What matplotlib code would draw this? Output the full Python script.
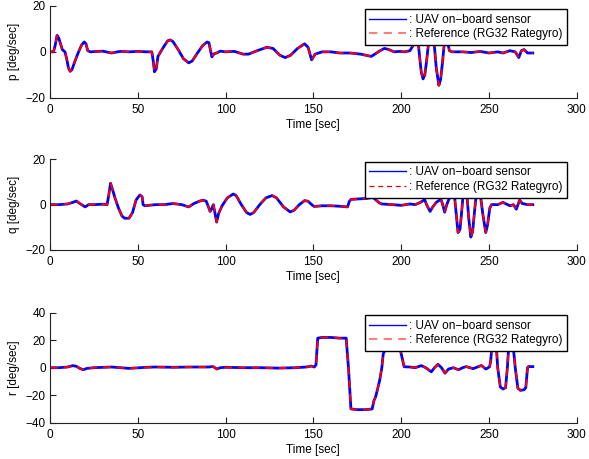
import matplotlib
matplotlib.use("Agg")
import matplotlib.pyplot as plt

plt.rcParams['font.family'] = ['Liberation Sans', 'DejaVu Sans']
plt.rcParams['font.size'] = 8.5

# ---- data ----
p_t = [0, 2, 3, 4, 5, 6, 7, 8.5, 9.5, 10.5, 11.5, 12.5, 14, 16, 18, 19.5, 20.5, 21.5, 23, 30, 35, 40, 45, 50, 55,
       58, 58.8, 59.5, 60.5, 61.5, 63, 65, 67, 68.5, 70, 73, 76, 79, 81, 84, 87, 89.5, 90.5, 92.2, 93.5, 95, 97,
       100, 105, 110, 113, 118, 123.5, 127, 131, 134, 137, 141, 145, 147, 149, 151, 155, 160, 165, 171, 177, 183,
       185, 188, 190.5, 193, 196, 199, 202, 205, 207, 208.5, 209.5, 210.5, 211.5, 212.5, 213.5, 214.5, 215.5,
       217, 218, 219, 220, 221.5, 222.5, 223.5, 224.5, 225.5, 226.5, 227.5, 229, 235, 240, 245, 250, 255, 258,
       262, 265, 267, 268.5, 270, 272, 275]
p_v = [0, 0, 3, 7.2, 6, 3.5, 1, 0, -3, -7, -8.5, -7.8, -4.5, -0.5, 3, 4.3, 3.5, 0.5, 0, 0.3, -0.5, 0.2, 0, 0.2, 0,
       0, -4, -8.7, -7.5, -2, 0, 2.5, 4.8, 5.2, 4.5, 1, -3, -4.8, -4, -0.5, 2.8, 4.3, 4, -2.2, -0.8, -0.5, 0.3,
       0, 0.2, -1, -1, 0.5, 2, 1.5, -1.5, -2.5, -1.5, 1.5, 3.5, 2, -3.5, -1, 0, 0, -0.5, -0.5, -1, -2,
       -1, 0.5, 1.5, 1, 0, 0.2, 0, 0.5, 3, 9, 6, -2, -9, -11.8, -10, -4, 3,
       9, 8, 2, -7, -14.6, -12, -5, 3, 7, 4, 0.5, 0, 0, -0.3, 0.2, -0.5, 0, -0.5,
       0.5, 0, -2.5, 0.5, 1, -0.5, -0.5]

q_t = [0, 5, 10, 13, 15, 17, 20, 22, 25, 30, 32.5, 33.2, 34.5, 35.5, 37, 39, 41, 42.5, 45, 47, 49, 51.2, 52.5,
       53, 54, 60, 65, 70, 75, 79, 82, 85, 87.3, 89, 90.5, 91.2, 92, 93, 93.8, 94.9, 96, 98, 101, 104.4, 106,
       109, 112, 114, 116, 120, 123, 126.5, 129, 133, 136.8, 139, 142, 145, 147, 149.5, 150.5, 155, 160, 165,
       169.5, 170.5, 171.5, 175, 180, 183.8, 185, 187.5, 189, 195, 200, 205, 208, 211, 213.4, 214.5, 216.5,
       218, 220, 222.6, 223.5, 224.8, 226, 228, 229.5, 230.5, 232.4, 233.5, 234.5, 235.5, 236.5, 237.5, 238.5,
       239.7, 240.7, 241.8, 243, 244, 245, 246.5, 248.2, 249.2, 250.5, 251.5, 255, 258, 262, 264, 265.6,
       267.5, 269, 272, 275]
q_v = [0, 0, 0.3, 1, 1.6, 0.5, -1, 0, 0, 0.2, 0, 3, 9.4, 7, 3, -1.5, -5, -6, -6, -3.5, 2, 4.3, 3.5,
       0, -0.5, 0, 0, 0.5, 0, -1, 0.5, 1.5, 2, 1.5, -1.5, -3, -2, 0, -3, -7.7, -4, -0.5, 3, 4.7, 4,
       0, -3.5, -4.3, -3.5, 0.5, 3, 4, 3, -1, -3.2, -2.5, 0, 1.8, 1.5, -0.3, -0.8, -0.5, -0.5, -0.7,
       -1, 1.5, 2.3, 2.5, 2.7, 3.2, 2.5, 0.8, 0.3, 0, -0.3, 0.3, 0, 1, 2.2, 0, -3,
       -1, 1, 2.4, 0.5, -3.3, 0, 4, 8, 3, -12.3, -11, -3, 6, 9, 4, -6,
       -14.3, -12, -3, 6, 9, 5, -4, -12.3, -9, -1.5, 0, 0, 1, -0.5, 0, -2,
       2, 0.5, 0, 0]

r_t = [0, 5, 10, 13, 15, 17, 19, 21, 25, 35, 45, 55, 60, 70, 80, 90, 93, 95, 97, 100, 110, 120, 130, 140,
       146, 148.8, 150.5, 151.5, 152.5, 155, 160, 165, 168.7, 170, 171.4, 175, 180, 183.5, 184.5, 185.5,
       186.5, 187.8, 189, 189.8, 191, 195, 199.5, 201.7, 205, 208, 211.5, 214, 217.2, 219, 221, 223, 225,
       227, 229.7, 232.7, 235, 237, 241, 245.7, 248.3, 250.4, 251, 252, 253, 254, 255, 256.5, 258, 259.5,
       260.5, 261.5, 262.5, 263.5, 265, 266.5, 268, 270, 271, 272, 272.5, 275]
r_v = [0, 0, 0.5, 1.5, 1, -0.5, -1.5, -0.5, 0, 0.5, -0.5, 0.3, 0.5, 0.3, 0.5, 0.5, 0.8, -1, 0, 0.3, 0, 0, -0.3, 0,
       0.5, 1.2, 0.5, 2, 21.5, 22, 22, 21.5, 21.5, 0, -30, -30.5, -30.5, -30, -24, -21,
       -16, -9, 0, 10, 13.3, 13.3, 13.2, 0.7, 0.5, 0, 1.5, 0, -3, 0, 2.5, 0, -4,
       -1, 0, -1.5, 0, 0.8, -0.7, 1.6, -1, 0.7, 5, 20, 26, 20, 0, -14, -15.5, -14.5,
       0, 20, 25, 20, 0, -15, -16.5, -16, -14.5, 0, 0.8, 0.8]

ylabels = ['p [deg/sec]', 'q [deg/sec]', 'r [deg/sec]']
yticks = [[-20, 0, 20], [-20, 0, 20], [-40, -20, 0, 20, 40]]
xticks = [0, 50, 100, 150, 200, 250, 300]
leg_labels = [': UAV on\u2212board sensor', ': Reference (RG32 Rategyro)']

W, H = 589, 459
fig = plt.figure(figsize=(W / 100, H / 100), dpi=100)

# axes rectangles in pixels: left, right, top, bottom
rects = [(50, 576.7, 6, 97.7), (50, 576.7, 159.3, 250), (50, 576.7, 312.7, 422.7)]
leg_top = [0.967, 0.973, 0.979]
series = [(p_t, p_v), (q_t, q_v), (r_t, r_v)]
ref_leg_colors = ['#ff7f7f', '#e00000', '#ff7f7f']
ref_leg_lw = [1.5, 0.9, 1.5]

for i, ((t, v), (l, r, tp, bt)) in enumerate(zip(series, rects)):
    ax = fig.add_axes([l / W, (H - bt) / H, (r - l) / W, (bt - tp) / H])
    ax.plot(t, v, color='#0000ff', lw=2.0, solid_joinstyle='round', label=leg_labels[0])
    ax.plot(t, v, color='#ff0000', lw=1.4, ls=(0, (4, 3)), label=leg_labels[1])
    ax.set_xlim(0, 300)
    ax.set_ylim(yticks[i][0], yticks[i][-1])
    ax.set_xticks(xticks)
    ax.set_yticks(yticks[i])
    ax.set_yticklabels([str(y).replace('-', '\u2212') for y in yticks[i]])
    ax.spines['top'].set_visible(False)
    ax.spines['right'].set_visible(False)
    for s in ['left', 'bottom']:
        ax.spines[s].set_color('#222222')
        ax.spines[s].set_linewidth(0.8)
    ax.tick_params(direction='in', length=4, width=0.8, color='#222222', labelsize=8.5)
    ax.tick_params(axis='x', pad=4.5)
    ax.tick_params(axis='y', pad=3)
    ax.set_xlabel('Time [sec]', fontsize=8.5, labelpad=2)
    ax.set_ylabel(ylabels[i], fontsize=8.5)
    ax.yaxis.set_label_coords(-0.057, 0.5)
    leg = ax.legend(loc='upper right', bbox_to_anchor=(0.982, leg_top[i]), borderaxespad=0,
                    fontsize=8.5, handlelength=3.1, handletextpad=0.25, labelspacing=0.2,
                    borderpad=0.4, fancybox=False, framealpha=1, edgecolor='black')
    leg.get_frame().set_linewidth(1.0)
    lines = leg.get_lines()
    lines[0].set_linewidth(1.0)
    lines[1].set_color(ref_leg_colors[i])
    lines[1].set_linewidth(ref_leg_lw[i])

fig.savefig('out.png', dpi=100)
